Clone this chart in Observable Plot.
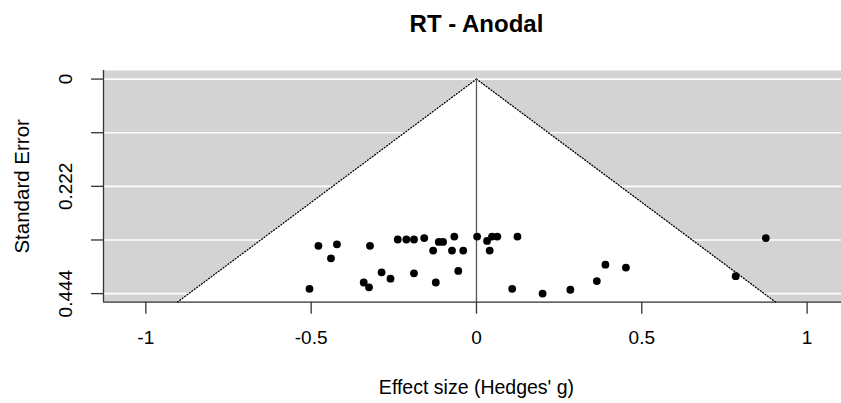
<!DOCTYPE html>
<html>
<head>
<meta charset="utf-8">
<script src="https://cdn.jsdelivr.net/npm/d3@7"></script>
<script src="https://cdn.jsdelivr.net/npm/@observablehq/plot@0.6"></script>
<style>
  html, body { margin: 0; padding: 0; background: #fff; overflow: hidden; }
  svg { font-family: "Liberation Sans", Arial, sans-serif; }
</style>
</head>
<body>
<div id="chart"></div>
<script>
// Funnel plot of study effect sizes against their standard errors
const title = "RT - Anodal";
const xLabel = "Effect size (Hedges' g)";
const yLabel = "Standard Error";

// Hedges' g per study
const effect = [-0.478, -0.422, -0.440, -0.322, -0.505, -0.341, -0.325, -0.287, -0.260,
  -0.238, -0.212, -0.189, -0.158, -0.189, -0.131, -0.114, -0.101, -0.123, -0.074,
  -0.067, -0.040, -0.055, 0.002, 0.032, 0.047, 0.063, 0.040, 0.124, 0.108, 0.200,
  0.284, 0.364, 0.390, 0.452, 0.784, 0.875];
// standard error per study
const stdErr = [0.345, 0.342, 0.371, 0.345, 0.434, 0.421, 0.431, 0.400, 0.413,
  0.332, 0.332, 0.332, 0.329, 0.402, 0.355, 0.337, 0.337, 0.421, 0.355,
  0.326, 0.355, 0.397, 0.326, 0.335, 0.326, 0.326, 0.355, 0.326, 0.434, 0.444,
  0.436, 0.418, 0.384, 0.390, 0.408, 0.329];

const xTicks = [-1, -0.5, 0, 0.5, 1];
const xTickLabels = ["-1", "-0.5", "0", "0.5", "1"];
const seTicks = [0, 0.111, 0.222, 0.333, 0.444];
const seTickLabels = ["0", "", "0.222", "", "0.444"];

const studies = effect.map((g, i) => ({g, se: stdErr[i]}));

// axis limits padded by 4% like base graphics
const seMax = d3.max(stdErr);
const yDomain = [-0.04 * seMax, seMax * 1.04];
const xDomain = [-1.128, 1.104];

// pseudo-confidence region: 0 ± 1.96·SE
const z = 1.96;
const funnel = [{se: 0}, {se: yDomain[1]}];

const axisColor = "#333";
const fontSize = 19;

const plot = Plot.plot({
  width: 841,
  height: 403,
  marginTop: 70,
  marginBottom: 101.3,
  marginLeft: 103,
  marginRight: 0,
  style: {fontFamily: "'Liberation Sans', Arial, sans-serif", background: "#fff"},
  x: {domain: xDomain},
  y: {domain: yDomain, reverse: true},
  marks: [
    Plot.frame({fill: "#d3d3d3", stroke: null}),
    Plot.areaX(funnel, {y: "se", x1: d => -z * d.se, x2: d => z * d.se, fill: "white"}),
    Plot.ruleY(seTicks, {stroke: "white", strokeWidth: 1.6}),
    Plot.line(funnel, {x: d => -z * d.se, y: "se", stroke: "black", strokeWidth: 1.3, strokeDasharray: "1,2"}),
    Plot.line(funnel, {x: d => z * d.se, y: "se", stroke: "black", strokeWidth: 1.3, strokeDasharray: "1,2"}),
    Plot.ruleX([0], {y1: 0, y2: yDomain[1], stroke: "#555", strokeWidth: 1.3}),
    // axis lines along the left and bottom edges
    Plot.ruleX([xDomain[0]], {stroke: axisColor, strokeWidth: 1.3}),
    Plot.ruleY([yDomain[1]], {stroke: axisColor, strokeWidth: 1.3}),
    Plot.axisX({ticks: xTicks, tickSize: 12, tickPadding: 16, tickFormat: (d, i) => xTickLabels[i],
      label: null, fontSize, stroke: axisColor, strokeWidth: 1.3, fill: "#000"}),
    Plot.axisY({ticks: seTicks, tickSize: 12, tickFormat: () => "", label: null, stroke: axisColor, strokeWidth: 1.3}),
    Plot.text(seTicks, {y: d => d, text: (d, i) => seTickLabels[i], frameAnchor: "left", dx: -31.5,
      rotate: -90, lineAnchor: "bottom", textAnchor: "middle", fontSize, fill: "#000"}),
    Plot.dot(studies, {x: "g", y: "se", r: 3.9, fill: "black", stroke: null}),
    Plot.text([title], {x: 0, frameAnchor: "top", dy: -38.3, lineAnchor: "bottom",
      fontSize: 24, fontWeight: "bold", fill: "#000"}),
    Plot.text([xLabel], {x: 0, frameAnchor: "bottom", dy: 91.8, lineAnchor: "bottom", fontSize: 19.5, fill: "#000"}),
    Plot.text([yLabel], {frameAnchor: "left", dx: -74.7, rotate: -90, lineAnchor: "bottom",
      textAnchor: "middle", fontSize: 20.5, fill: "#000"})
  ]
});
document.getElementById("chart").append(plot);
</script>
</body>
</html>
